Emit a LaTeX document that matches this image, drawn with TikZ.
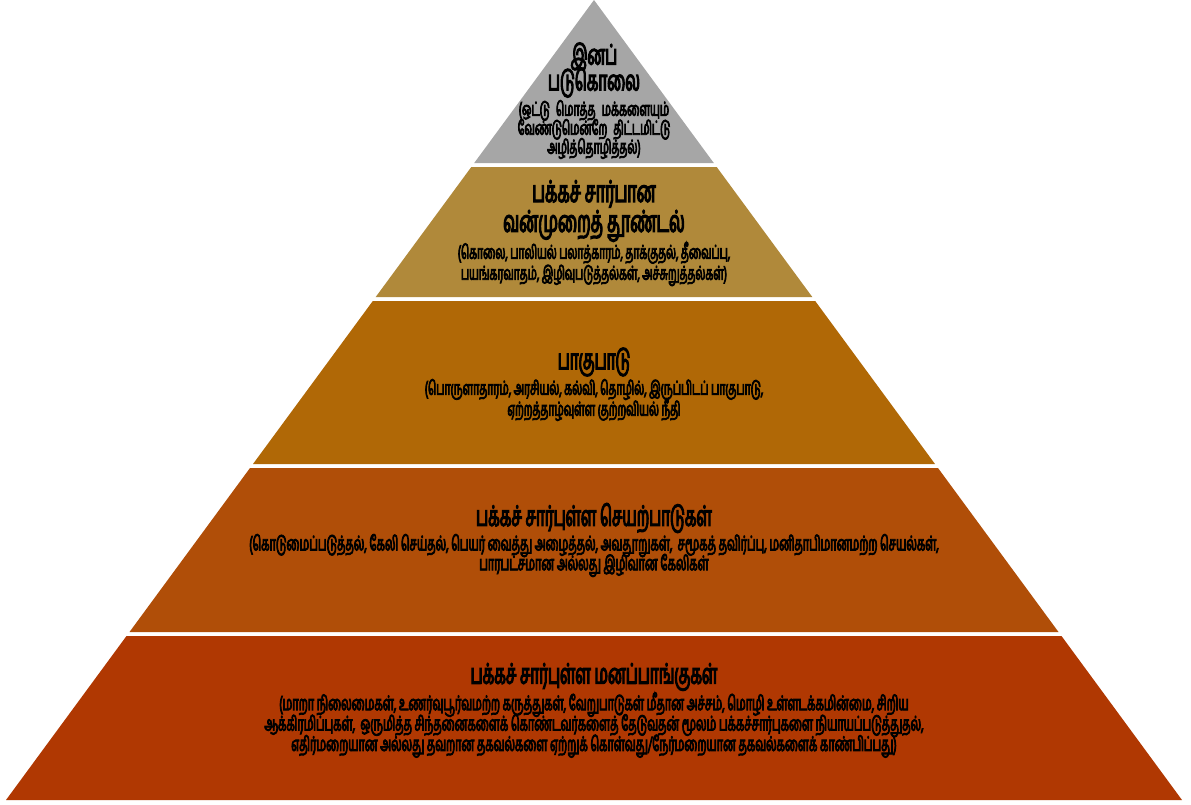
\documentclass[tikz,border=0pt]{standalone}
\usepackage{fontspec}
\newfontfamily\tamilfont[Script=Tamil, FakeStretch=0.54, FakeBold=4]{Hind Madurai}
\usetikzlibrary{positioning}
\definecolor{tiergray}{RGB}{166,166,166}
\definecolor{tiergold}{RGB}{176,137,58}
\definecolor{tierochre}{RGB}{176,104,6}
\definecolor{tierrust}{RGB}{176,78,8}
\definecolor{tierbrick}{RGB}{176,56,2}
\newcommand{\tightlines}{\lineskiplimit=-30pt\relax\lineskip=0pt\relax}

\begin{document}
\begin{tikzpicture}[
			x=0.02cm,
			y=-0.02cm,
			node distance=1cm,
			on grid,
			heading/.style 2 args={
				font=\tamilfont\fontsize{#1}{#2}\selectfont,
				execute at begin node=\tightlines,
				align=center,
				inner sep=0pt,
				text=black
			},
			detail/.style 2 args={
				font=\tamilfont\fontsize{#1}{#2}\selectfont,
				execute at begin node=\tightlines,
				align=center,
				inner sep=0pt,
				text=black
			},
			widespace/.style={
				execute at begin node={\tightlines\spaceskip=#1\relax}
			}
			]
			\useasboundingbox (0,0) rectangle (1191,805);
			
			% Layers
			\fill[tiergray] (594,0) -- (713.8,163) -- (474.2,163) -- cycle;
			\fill[tiergold] (471.3,167) -- (716.7,167) -- (812.3,297) -- (375.7,297) -- cycle;
			\fill[tierochre] (372.8,301) -- (815.2,301) -- (935,464) -- (253,464) -- cycle;
			\fill[tierrust] (250,468) -- (938,468) -- (1058.5,632) -- (129.5,632) -- cycle;
			\fill[tierbrick] (126.5,636) -- (1061.5,636) -- (1182,800) -- (6,800) -- cycle;
			
			% Headings
			\node[heading={16}{14.7}] (genocide) at (594,70) {இனப்\\படுகொலை};
			\node[heading={17}{17}] (violence) at (594,211) {பக்கச் சார்பான\\வன்முறைத் தூண்டல்};
			\node[heading={16}{16}] (discrimination) at (594,362) {பாகுபாடு};
			\node[heading={16}{16}] (actions) at (594,518) {பக்கச் சார்புள்ள செயற்பாடுகள்};
			\node[heading={16}{16}] (attitudes) at (594,677) {பக்கச் சார்புள்ள மனப்பாங்குகள்};
			
			% Details
			\node[detail={11}{10.8}, widespace=3.5pt] (genocidetext) [below=1.19cm of genocide] {(ஒட்டு மொத்த மக்களையும்\\வேண்டுமென்றே திட்டமிட்டு\\அழித்தொழித்தல்)};
			\node[detail={10.9}{11.9}] (violencetext) [below=1.06cm of violence] {(கொலை, பாலியல் பலாத்காரம், தாக்குதல், தீவைப்பு,\\பயங்கரவாதம், இழிவுபடுத்தல்கள், அச்சுறுத்தல்கள்)};
			\node[detail={11}{11.9}] (discriminationtext) [below=0.76cm of discrimination] {(பொருளாதாரம், அரசியல், கல்வி, தொழில், இருப்பிடப் பாகுபாடு,\\ஏற்றத்தாழ்வுள்ள குற்றவியல் நீதி};
			\node[detail={11.5}{11.3}] (actionstext) [below=0.75cm of actions] {(கொடுமைப்படுத்தல், கேலி செய்தல், பெயர் வைத்து அழைத்தல், அவதூறுகள்,~~சமூகத் தவிர்ப்பு, மனிதாபிமானமற்ற செயல்கள்,\\பாரபட்சமான அல்லது இழிவான கேலிகள்};
			\node[detail={11.5}{11.6}] (attitudestext) [below=0.96cm of attitudes] {(மாறா நிலைமைகள், உணர்வுபூர்வமற்ற கருத்துகள், வேறுபாடுகள் மீதான அச்சம், மொழி உள்ளடக்கமின்மை, சிறிய\\ஆக்கிரமிப்புகள்,~~ஒருமித்த சிந்தனைகளைக் கொண்டவர்களைத் தேடுவதன் மூலம் பக்கச்சார்புகளை நியாயப்படுத்துதல்,\\எதிர்மறையான அல்லது தவறான தகவல்களை ஏற்றுக் கொள்வது/நேர்மறையான தகவல்களைக் காண்பிப்பது)};
		\end{tikzpicture}
\end{document}
